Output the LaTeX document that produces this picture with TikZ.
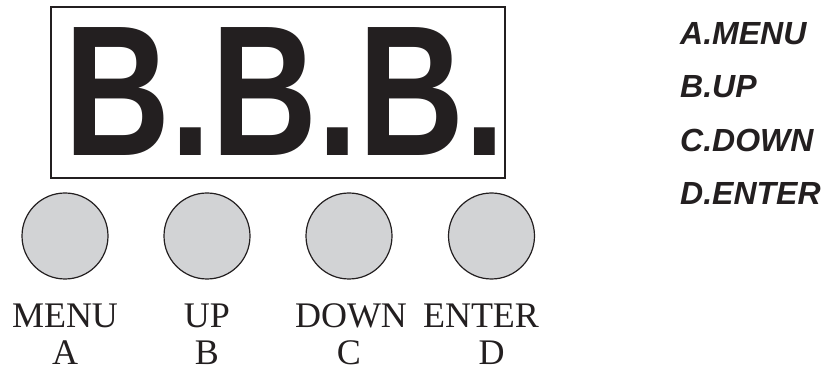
\documentclass[tikz,border=0pt]{standalone}
\usepackage{fontspec}
\setmainfont{Liberation Serif}
\newfontfamily\panelfont{Liberation Sans}
\usepackage{xcolor}
\definecolor{ink}{RGB}{35,31,32}
\definecolor{keygray}{RGB}{210,211,213}

\begin{document}
\begin{tikzpicture}[x=1pt, y=1pt,
    key/.style={circle, draw=ink, fill=keygray, line width=1.2pt, minimum size=86pt, inner sep=0pt},
    keyname/.style={anchor=base, inner sep=0pt, text=ink, font=\fontsize{36}{36}\selectfont},
    legend/.style={anchor=base west, inner sep=0pt, text=ink, font=\panelfont\bfseries\itshape\fontsize{32}{32}\selectfont}]
    \useasboundingbox (0,0) rectangle (827,372);

    % display window
    \coordinate (dispSW) at (51,194);
    \coordinate (dispNE) at (505,365);
    \draw[ink, line width=1.2pt] (dispSW) rectangle (dispNE);
    \node[anchor=base, inner sep=0pt, text=ink, xscale=0.79,
          font=\panelfont\bfseries\fontsize{186}{186}\selectfont] (digits) at (285,216) {B.B.B.};

    % keys with their names
    \foreach \x/\nx/\name/\letter in {
        65/65/MENU/A,
        207/207/UP/B,
        349/351/DOWN/C,
        491.5/481/ENTER/D
    }{
        \node[key] (key\letter) at (\x,136) {};
        \node[keyname] (name\letter) at (\nx,44) {\name};
        \node[keyname] (letter\letter) at (\x,7) {\letter};
    }

    % legend
    \foreach \y/\text [count=\i] in {
        327/A.MENU,
        274/B.UP,
        220/C.DOWN,
        167/D.ENTER
    }{
        \node[legend] (legend\i) at (680,\y) {\text};
    }
\end{tikzpicture}
\end{document}
